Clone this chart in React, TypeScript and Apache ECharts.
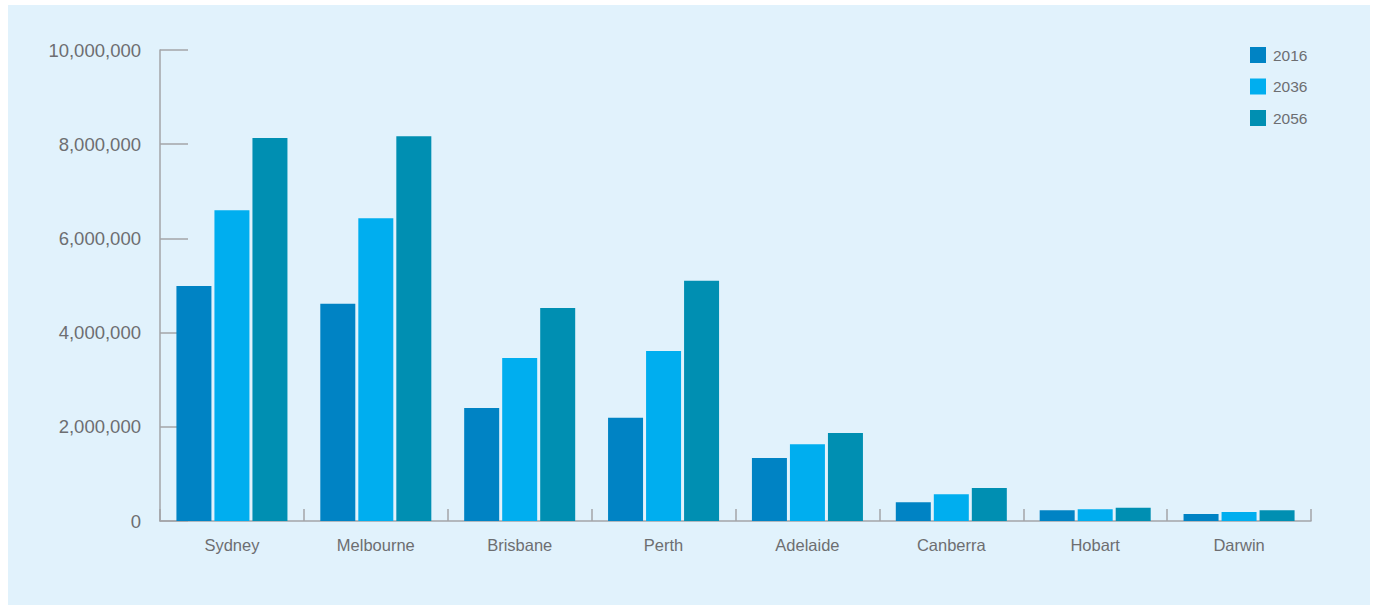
import React, { useEffect, useRef } from "react";
import * as echarts from "echarts";

const cities = ["Sydney", "Melbourne", "Brisbane", "Perth", "Adelaide", "Canberra", "Hobart", "Darwin"];
const seriesNames = ["2016", "2036", "2056"];
const values2016 = [4990000, 4610000, 2400000, 2190000, 1340000, 400000, 230000, 150000];
const values2036 = [6600000, 6430000, 3460000, 3610000, 1630000, 570000, 250000, 190000];
const values2056 = [8130000, 8170000, 4520000, 5100000, 1870000, 700000, 280000, 230000];
const colors = ["#0083c4", "#00aeef", "#008fb2"];

const FONT = "'Liberation Sans', Arial, sans-serif";
const AXIS = "#a3a5a8";
const TEXT = "#6d6e71";

export default function App() {
  const ref = useRef<HTMLDivElement>(null);
  useEffect(() => {
    if (!ref.current) return;
    const chart = echarts.init(ref.current, null, { renderer: "svg" });
    const data = [values2016, values2036, values2056];
    chart.setOption({
      animation: false,
      color: colors,
      textStyle: { fontFamily: FONT },
      grid: { left: 160, right: 64, top: 50, bottom: 84, containLabel: false },
      legend: {
        orient: "vertical",
        left: 1245,
        top: 42,
        itemWidth: 16,
        itemHeight: 16,
        itemGap: 15.5,
        icon: "rect",
        textStyle: { color: TEXT, fontSize: 15.5, fontFamily: FONT, padding: [0, 0, 0, 2] },
        data: seriesNames,
      },
      xAxis: {
        type: "category",
        data: cities,
        axisLine: { lineStyle: { color: AXIS, width: 1.5 } },
        axisTick: { show: true, inside: true, length: 12, lineStyle: { color: AXIS, width: 1.5 } },
        axisLabel: { color: TEXT, fontSize: 16.5, margin: 15, fontFamily: FONT },
        splitLine: { show: false },
      },
      yAxis: {
        type: "value",
        min: 0,
        max: 10000000,
        interval: 2000000,
        axisLine: { show: true, lineStyle: { color: AXIS, width: 1.5 } },
        axisTick: { show: true, inside: true, length: 28, lineStyle: { color: AXIS, width: 1.5 } },
        axisLabel: {
          color: TEXT,
          fontSize: 18.5,
          margin: 19,
          fontFamily: FONT,
          formatter: (v: number) => v.toLocaleString("en-US"),
        },
        splitLine: { show: false },
      },
      series: seriesNames.map((name, i) => ({
        name,
        type: "bar",
        data: data[i],
        barWidth: 35,
        barGap: "8.6%",
        itemStyle: { color: colors[i] },
      })),
    });
    return () => chart.dispose();
  }, []);
  return (
    <div style={{ position: "absolute", left: 0, top: 0, width: 1375, height: 605 }}>
      <div style={{ position: "absolute", left: 8, top: 5, width: 1362, height: 600, background: "#e1f2fc" }} />
      <div ref={ref} style={{ position: "absolute", left: 0, top: 0, width: 1375, height: 605 }} />
    </div>
  );
}
